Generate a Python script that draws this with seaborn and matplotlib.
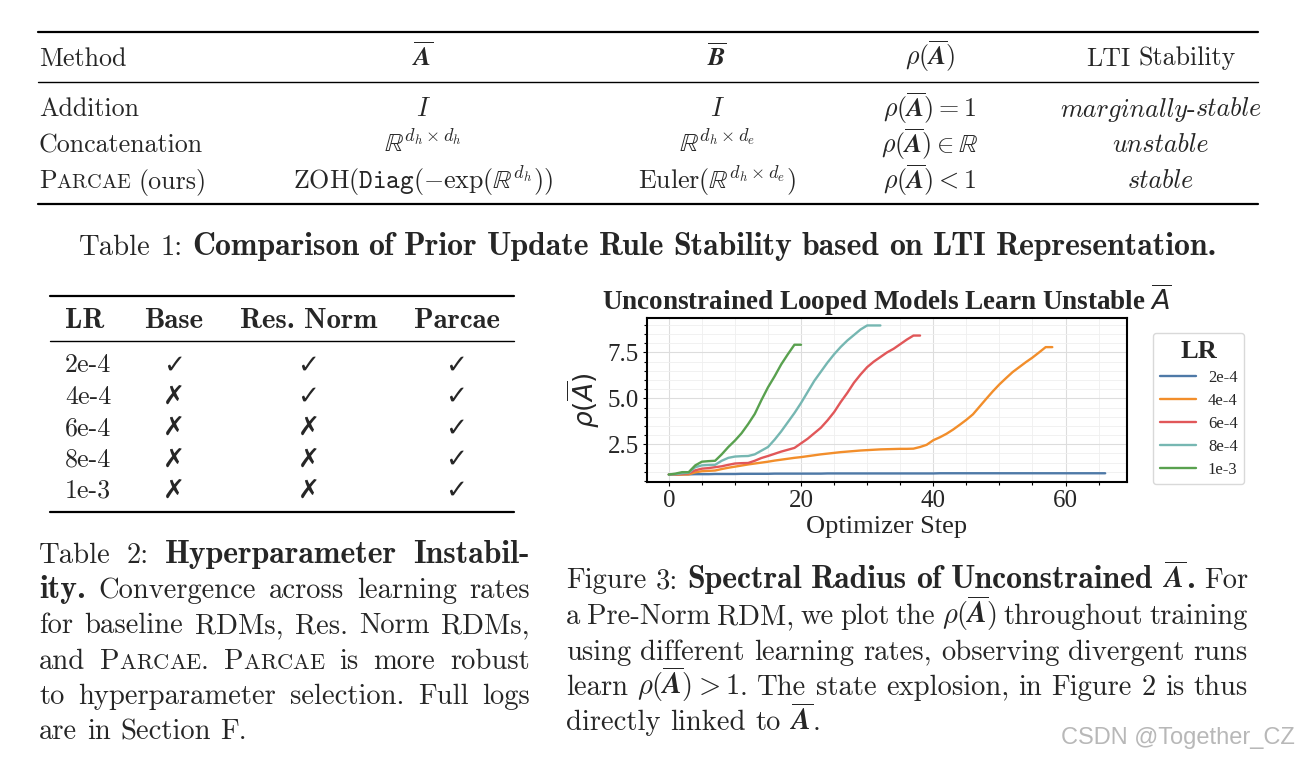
import numpy as np
import pandas as pd
import matplotlib
matplotlib.use('Agg')
import matplotlib.pyplot as plt
from matplotlib.lines import Line2D
from matplotlib.ticker import MultipleLocator
from matplotlib.mathtext import MathTextParser
import seaborn as sns

W, H = 1300, 758

sns.set_style('whitegrid')
plt.rcParams['mathtext.fontset'] = 'cm'


def parses(s):
    try:
        MathTextParser('path').parse(s)
        return True
    except Exception:
        return False


# bold italic A if this matplotlib knows \mathbfit, else plain bold
BA = r'\mathbfit{A}' if parses(r'$\mathbfit{A}$') else r'\mathbf{A}'
BB = BA.replace('A', 'B')
ABAR = r'\overline{' + BA + '}'

# ---- Figure 3 data ----
lr_labels = ['2e-4', '4e-4', '6e-4', '8e-4', '1e-3']
lr_colors = ['#4E79A7', '#F28E2B', '#E15759', '#76B7B2', '#59A14F']

rho_2e4 = [0.85, 0.85, 0.86, 0.86, 0.87, 0.87, 0.87, 0.88, 0.88, 0.88,
           0.88, 0.89, 0.89, 0.89, 0.89, 0.89, 0.90, 0.90, 0.90, 0.90,
           0.90, 0.90, 0.90, 0.90, 0.91, 0.91, 0.91, 0.91, 0.91, 0.91,
           0.91, 0.91, 0.91, 0.91, 0.91, 0.91, 0.91, 0.91, 0.91, 0.91,
           0.91, 0.92, 0.92, 0.92, 0.92, 0.92, 0.92, 0.92, 0.92, 0.92,
           0.92, 0.92, 0.92, 0.92, 0.92, 0.92, 0.92, 0.92, 0.92, 0.92,
           0.92, 0.92, 0.92, 0.92, 0.92, 0.92, 0.92]
rho_4e4 = [0.85, 0.85, 0.85, 0.86, 0.97, 1.03, 1.05, 1.07, 1.15, 1.22,
           1.28, 1.34, 1.40, 1.45, 1.50, 1.55, 1.61, 1.66, 1.71, 1.76,
           1.80, 1.85, 1.90, 1.95, 1.99, 2.03, 2.07, 2.10, 2.13, 2.16,
           2.18, 2.20, 2.22, 2.23, 2.24, 2.25, 2.25, 2.26, 2.35, 2.47,
           2.72, 2.88, 3.07, 3.30, 3.56, 3.83, 4.13, 4.55, 4.97, 5.38,
           5.76, 6.10, 6.43, 6.70, 6.97, 7.22, 7.50, 7.79, 7.79]
rho_6e4 = [0.85, 0.86, 0.88, 0.92, 1.08, 1.17, 1.20, 1.25, 1.30, 1.38,
           1.45, 1.47, 1.48, 1.60, 1.75, 1.86, 1.98, 2.10, 2.20, 2.30,
           2.55, 2.80, 3.10, 3.40, 3.80, 4.25, 4.80, 5.30, 5.85, 6.30,
           6.70, 7.00, 7.25, 7.50, 7.70, 7.95, 8.20, 8.42, 8.42]
rho_8e4 = [0.85, 0.87, 0.92, 0.95, 1.25, 1.35, 1.37, 1.38, 1.60, 1.76,
           1.83, 1.85, 1.86, 1.95, 2.15, 2.35, 2.75, 3.20, 3.70, 4.20,
           4.75, 5.35, 5.95, 6.45, 6.95, 7.40, 7.80, 8.15, 8.45, 8.75,
           8.97, 8.97, 8.97]
rho_1e3 = [0.85, 0.90, 0.98, 0.98, 1.35, 1.55, 1.58, 1.60, 1.95, 2.35,
           2.70, 3.10, 3.60, 4.15, 4.90, 5.60, 6.20, 6.85, 7.40, 7.92,
           7.92]

# ---- Table 1 ----
t1_header = ['Method', '$' + ABAR + '$', r'$\overline{' + BB + '}$',
             r'$\rho(' + ABAR + ')$', 'LTI Stability']
t1_methods = [[('Addition', 'r')], [('Concatenation', 'r')],
              [('Parcae', 'sc'), (' (ours)', 'r')]]
t1_A = [r'$I$', r'$\mathbb{R}^{d_h \times d_h}$',
        r'$\mathrm{ZOH}(\mathtt{Diag}(-\exp(\mathbb{R}^{d_h}))$']
t1_B = [r'$I$', r'$\mathbb{R}^{d_h \times d_e}$',
        r'$\mathrm{Euler}(\mathbb{R}^{d_h \times d_e})$']
t1_rho = [r'$\rho(' + ABAR + ') = 1$',
          r'$\rho(' + ABAR + r') \in \mathbb{R}$',
          r'$\rho(' + ABAR + ') < 1$']
t1_stab = [[('marginally', 'i'), ('-', 'r'), ('stable', 'i')],
           [('unstable', 'i')], [('stable', 'i')]]

# ---- Table 2 ----
t2_header = ['LR', 'Base', 'Res. Norm', 'Parcae']
t2_lrs = ['2e-4', '4e-4', '6e-4', '8e-4', '1e-3']
t2_base = [True, False, False, False, False]
t2_resnorm = [True, True, False, False, False]
t2_parcae = [True, True, True, True, True]

fig = plt.figure(figsize=(13, 7.58), dpi=100)
fig.patch.set_facecolor('white')
renderer = fig.canvas.get_renderer()

TXT = 18.7      # table body
CAP = 20.6      # caption text
BOLD_K = 1.11   # cmb10 is narrower than LaTeX's cmbx10
FAM = {'r': 'cmr10', 'b': 'cmb10', 'i': 'cmmi10', 'm': 'cmr10'}


def fx(x):
    return x / W


def fy(y):
    return 1 - y / H


def rule(x0, x1, y, lw):
    fig.add_artist(Line2D([fx(x0), fx(x1)], [fy(y), fy(y)],
                          transform=fig.transFigure, color='black', lw=lw))


def build(text, style, size):
    if style == 'sc':
        parts = [(c.upper(), 'r', size * 0.78 if c.islower() else size) for c in text]
    elif style == 'b':
        parts = [(text, 'b', size * BOLD_K)]
    else:
        parts = [(text, style, size)]
    objs = []
    for s, st, sz in parts:
        t = fig.text(0, 0, s, fontsize=sz, family=FAM[st], ha='left', va='baseline')
        objs.append((t, t.get_window_extent(renderer).width))
    return objs


def line(x0, y, segs, size=TXT, x1=None, align='left'):
    words = [[]]
    for text, st in segs:
        if st == 'm':
            words[-1].append((text, st))
            continue
        for k, p in enumerate(text.split(' ')):
            if k > 0 and words[-1]:
                words.append([])
            if p:
                words[-1].append((p, st))
    words = [w for w in words if w]
    built = [[o for seg in w for o in build(seg[0], seg[1], size)] for w in words]
    widths = [sum(o[1] for o in b) for b in built]
    sp = size * 100 / 72 * 0.333
    if align == 'justify' and len(words) > 1:
        sp = (x1 - x0 - sum(widths)) / (len(words) - 1)
    total = sum(widths) + sp * (len(words) - 1)
    x = x0 - total / 2 if align == 'center' else x0
    for b, w in zip(built, widths):
        cx = x
        for t, tw in b:
            t.set_position((fx(cx), fy(y)))
            cx += tw
        x += w + sp


# ---- Table 1 drawing ----
rule(38, 1258, 32, 1.6)
rule(38, 1258, 81.5, 1.0)
rule(38, 1258, 203.5, 1.6)
col_c = [423, 717, 930, 1161]
line(39, 65.5, [(t1_header[0], 'r')])
for cx, h in zip(col_c, t1_header[1:]):
    line(cx, 65.5, [(h, 'r' if '$' not in h else 'm')], align='center')
for i in range(3):
    yb = 116.5 + 36 * i
    line(39, yb, t1_methods[i])
    line(col_c[0], yb, [(t1_A[i], 'm')], align='center')
    line(col_c[1], yb, [(t1_B[i], 'm')], align='center')
    line(col_c[2], yb, [(t1_rho[i], 'm')], align='center')
    line(col_c[3], yb, t1_stab[i], align='center')
line(648, 255, [('Table 1: ', 'r'),
                ('Comparison of Prior Update Rule Stability based on LTI Representation.', 'b')],
     size=CAP, align='center')

# ---- Table 2 drawing ----
rule(50, 514, 296, 1.6)
rule(50, 514, 341.5, 1.0)
rule(50, 514, 511.5, 1.6)
line(65, 327.5, [(t2_header[0], 'b')])
t2_cols = [174, 308.5, 456.5]
for cx, h in zip(t2_cols, t2_header[1:]):
    line(cx, 327.5, [(h, 'b')], align='center')
for i, lr in enumerate(t2_lrs):
    yb = 372.5 + 31.3 * i
    line(65, yb, [(lr, 'r')])
    for cx, ok in zip(t2_cols, [t2_base[i], t2_resnorm[i], t2_parcae[i]]):
        fig.text(fx(cx), fy(yb), '\u2713' if ok else '\u2717', fontsize=19,
                 family='DejaVu Sans', fontweight='bold', ha='center', va='baseline')

cap2 = [
    [('Table 2: ', 'r'), ('Hyperparameter Instabil-', 'b')],
    [('ity.', 'b'), (' Convergence across learning rates', 'r')],
    [('for baseline RDMs, Res. Norm RDMs,', 'r')],
    [('and ', 'r'), ('Parcae', 'sc'), ('. ', 'r'), ('Parcae', 'sc'), (' is more robust', 'r')],
    [('to hyperparameter selection. Full logs', 'r')],
    [('are in Section F.', 'r')],
]
for i, segs in enumerate(cap2):
    last = i == len(cap2) - 1
    line(39, 563 + 35.2 * i, segs, size=CAP, x1=530, align='left' if last else 'justify')

cap3 = [
    [('Figure 3: ', 'r'), ('Spectral Radius of Unconstrained ', 'b'),
     ('$' + ABAR + '$', 'm'), ('.', 'b'), (' For', 'r')],
    [('a Pre-Norm RDM, we plot the ', 'r'), (r'$\rho(' + ABAR + ')$', 'm'),
     (' throughout training', 'r')],
    [('using different learning rates, observing divergent runs', 'r')],
    [('learn ', 'r'), (r'$\rho(' + ABAR + ') > 1$', 'm'),
     ('. The state explosion, in Figure 2 is thus', 'r')],
    [('directly linked to ', 'r'), ('$' + ABAR + '$', 'm'), ('.', 'r')],
]
for i, segs in enumerate(cap3):
    last = i == len(cap3) - 1
    line(566, 588.5 + 35.5 * i, segs, size=CAP, x1=1248, align='left' if last else 'justify')

fig.text(fx(1295), fy(744), 'CSDN @Together_CZ', ha='right', va='baseline',
         color='#b8b8b8', family='Liberation Sans', fontsize=17)

# ---- Figure 3 plot ----
ax = fig.add_axes([647 / W, 1 - 482 / H, 480 / W, 164 / H])
frames = []
for lab, vals in zip(lr_labels, [rho_2e4, rho_4e4, rho_6e4, rho_8e4, rho_1e3]):
    frames.append(pd.DataFrame({'step': np.arange(len(vals)), 'rho': vals, 'LR': lab}))
df = pd.concat(frames, ignore_index=True)
sns.lineplot(data=df, x='step', y='rho', hue='LR', hue_order=lr_labels,
             palette=dict(zip(lr_labels, lr_colors)), linewidth=1.7, ax=ax)

ax.xaxis.set_major_locator(MultipleLocator(20))
ax.xaxis.set_minor_locator(MultipleLocator(5))
ax.yaxis.set_major_locator(MultipleLocator(2.5))
ax.yaxis.set_minor_locator(MultipleLocator(0.5))
ax.grid(which='major', color='#dddddd', lw=0.8)
ax.grid(which='minor', color='#efefef', lw=0.6)
ax.set_axisbelow(True)
for sp in ax.spines.values():
    sp.set_color('black')
    sp.set_linewidth(1.5)
ax.tick_params(which='both', direction='out', bottom=True, left=True,
               color='black', width=0.8, pad=3)
ax.tick_params(which='major', length=3, labelsize=18)
ax.tick_params(which='minor', length=2.5)
for lab in ax.get_xticklabels() + ax.get_yticklabels():
    lab.set_family('Liberation Serif')
ax.set_xlabel('Optimizer Step', family='Liberation Serif', fontsize=19, labelpad=3)
ax.set_ylabel(r'$\rho(\overline{A})$', fontsize=19, math_fontfamily='dejavusans', labelpad=4)
ax.set_title(r'Unconstrained Looped Models Learn Unstable $\overline{A}$',
             family='Liberation Serif', fontweight='bold', fontsize=19.5,
             math_fontfamily='dejavusans', pad=4)

ax.legend(title='LR', loc='upper left', bbox_to_anchor=(1.054, 0.909), borderaxespad=0,
          prop={'family': 'Liberation Serif', 'size': 12},
          title_fontproperties={'family': 'Liberation Serif', 'weight': 'bold', 'size': 19},
          frameon=True, fancybox=True, edgecolor='#d9d9d9', framealpha=1,
          handlelength=2.2, handletextpad=0.7, labelspacing=0.42, borderpad=0.4)

fig.savefig('out.png', dpi=100, facecolor='white')
